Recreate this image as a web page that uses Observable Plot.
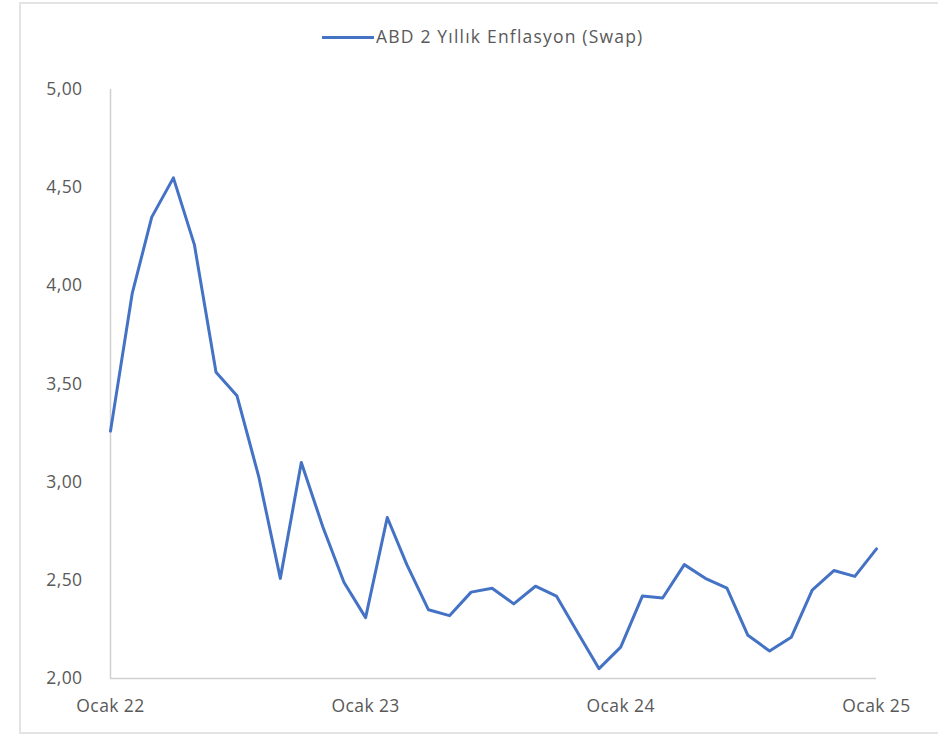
<!DOCTYPE html>
<html>
<head>
<meta charset="utf-8">
<script src="https://cdn.jsdelivr.net/npm/d3@7"></script>
<script src="https://cdn.jsdelivr.net/npm/@observablehq/plot@0.6"></script>
<style>
  html, body { margin: 0; padding: 0; background: #fff; }
  #wrap { position: relative; width: 938px; height: 737px; overflow: hidden; }
  #frame { position: absolute; left: 19px; top: 2px; width: 930px; height: 732px; border: 2px solid #e3e3e3; box-sizing: border-box; }
  #legend { position: absolute; top: 0; left: 0; width: 938px; height: 70px; font-family: "Open Sans", sans-serif; font-size: 17.5px; letter-spacing: 1.2px; color: #595959; }
  #legend .sw { position: absolute; left: 322px; top: 36px; width: 52px; height: 3px; background: #4472C4; }
  #legend .tx { position: absolute; left: 376px; top: 24px; white-space: nowrap; }
  #chart { position: absolute; top: 70px; left: 0; }
  #chart svg text { letter-spacing: 0.4px; }
</style>
</head>
<body>
<div id="wrap">
  <div id="frame"></div>
  <div id="legend"><div class="sw"></div><div class="tx"></div></div>
  <div id="chart"></div>
</div>
<script>
const seriesName = "ABD 2 Yıllık Enflasyon (Swap)";
const startYear = 2022;
const values = [
  3.26, 3.96, 4.35, 4.55, 4.21, 3.56, 3.44, 3.03, 2.51, 3.10,
  2.77, 2.49, 2.31, 2.82, 2.58, 2.35, 2.32, 2.44, 2.46, 2.38,
  2.47, 2.42, 2.23, 2.05, 2.16, 2.42, 2.41, 2.58, 2.51, 2.46,
  2.22, 2.14, 2.21, 2.45, 2.55, 2.52, 2.66
];
const yTicks = [2, 2.5, 3, 3.5, 4, 4.5, 5];
const xTickLabels = ["Ocak 22", "Ocak 23", "Ocak 24", "Ocak 25"];

const data = values.map((v, i) => ({ date: new Date(Date.UTC(startYear, i, 1)), value: v }));
const xTicks = xTickLabels.map((_, k) => new Date(Date.UTC(startYear + k, 0, 1)));

document.querySelector("#legend .tx").textContent = seriesName;

const fmt = d3.format(".2f");
const chart = Plot.plot({
  width: 938,
  height: 667,
  marginTop: 19,
  marginBottom: 59,
  marginLeft: 110,
  marginRight: 62,
  style: { fontFamily: "'Open Sans', sans-serif", fontSize: "17.5px", color: "#595959", background: "transparent" },
  x: { type: "utc", domain: [xTicks[0], xTicks[xTicks.length - 1]], ticks: xTicks, tickFormat: (d) => xTickLabels[d.getUTCFullYear() - startYear], tickSize: 0, tickPadding: 21, label: null },
  y: { domain: [2, 5], ticks: yTicks, tickFormat: (d) => fmt(d).replace(".", ","), tickSize: 0, tickPadding: 28, label: null },
  marks: [
    Plot.ruleX([xTicks[0]], { stroke: "#d0d0d0", strokeWidth: 1.5 }),
    Plot.ruleY([2], { stroke: "#d0d0d0", strokeWidth: 1.5 }),
    Plot.lineY(data, { x: "date", y: "value", stroke: "#4472C4", strokeWidth: 3, strokeLinejoin: "round" })
  ]
});
document.getElementById("chart").appendChild(chart);
</script>
</body>
</html>
